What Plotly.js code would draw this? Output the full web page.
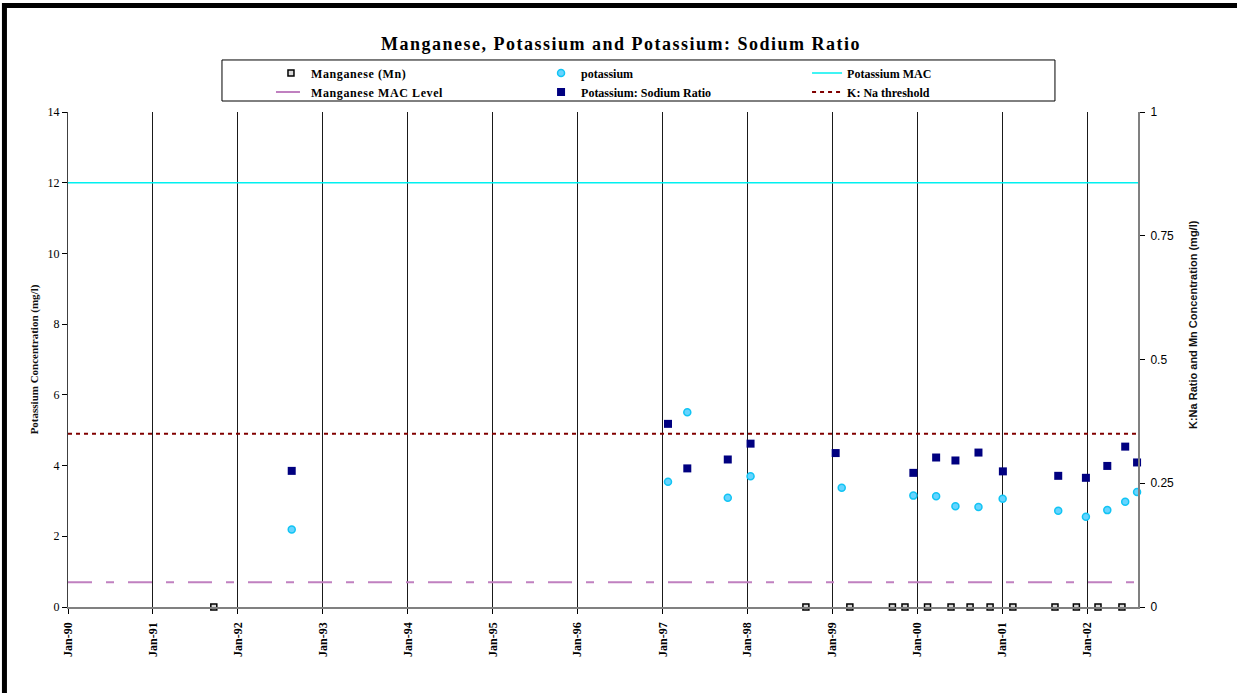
<!DOCTYPE html>
<html>
<head>
<meta charset="utf-8">
<script src="https://cdn.plot.ly/plotly-3.0.1.min.js"></script>
<style>
html,body{margin:0;padding:0;background:#fff;overflow:hidden;}
#chart{width:1237px;height:693px;}
.gtitle{letter-spacing:1.5px;}
.legendtext{letter-spacing:0.6px;}
</style>
</head>
<body>
<div id="chart"></div>
<script>
// ---- data ----
const axisStart = '1990-01-01';
const axisEnd = '2002-08-07';

const mnDates = ['1991-09-20','1998-09-09','1999-03-17','1999-09-16','1999-11-09','2000-02-14','2000-05-25',
                 '2000-08-15','2000-11-09','2001-02-15','2001-08-15','2001-11-15','2002-02-16','2002-05-30'];
const mnValues = [0,0,0,0,0,0,0,0,0,0,0,0,0,0];

const potassiumDates = ['1992-08-20','1997-01-24','1997-04-17','1997-10-08','1998-01-14','1999-02-10','1999-12-15',
                        '2000-03-22','2000-06-13','2000-09-20','2001-01-02','2001-08-29','2001-12-26','2002-03-28',
                        '2002-06-13','2002-08-03'];
const potassiumValues = [2.19,3.54,5.51,3.09,3.70,3.37,3.15,3.13,2.85,2.83,3.06,2.72,2.55,2.74,2.98,3.25];

const ratioDates = ['1992-08-20','1997-01-24','1997-04-17','1997-10-08','1998-01-14','1999-01-15','1999-12-15',
                    '2000-03-22','2000-06-13','2000-09-20','2001-01-03','2001-08-29','2001-12-26','2002-03-28',
                    '2002-06-13','2002-08-03'];
const ratioValues = [0.275,0.370,0.280,0.298,0.330,0.311,0.271,0.302,0.296,0.312,0.274,0.265,0.261,0.285,0.324,0.292];

const potassiumMAC = 12;
const manganeseMAC = 0.05;
const kNaThreshold = 0.35;

const seriesNames = ['Manganese (Mn)','potassium','Potassium MAC','Manganese MAC Level','Potassium: Sodium Ratio','K: Na threshold'];
const chartTitle = 'Manganese, Potassium and Potassium: Sodium Ratio';
const leftAxisTitle = 'Potassium Concentration (mg/l)';
const rightAxisTitle = 'K:Na Ratio and Mn Concentration (mg/l)';

// ---- traces ----
const traces = [
  {type:'scatter', mode:'markers', name:seriesNames[0], legend:'legend', x:mnDates, y:mnValues, yaxis:'y2', cliponaxis:false,
   marker:{symbol:'square', size:6, color:'#d8d8d8', line:{color:'#000', width:1.5}}},
  {type:'scatter', mode:'markers', name:seriesNames[1], legend:'legend2', x:potassiumDates, y:potassiumValues, yaxis:'y', cliponaxis:false,
   marker:{symbol:'circle', size:7, color:'#66d4ff', line:{color:'#11c4f4', width:1.5}}},
  {type:'scatter', mode:'lines', name:seriesNames[2], legend:'legend3', x:[axisStart, axisEnd], y:[potassiumMAC, potassiumMAC], yaxis:'y',
   line:{color:'#00f0f0', width:1.5}},
  {type:'scatter', mode:'lines', name:seriesNames[3], legend:'legend', x:[axisStart, axisEnd], y:[manganeseMAC, manganeseMAC], yaxis:'y2',
   line:{color:'#c080c0', width:2, dash:'24px,14px,8px,14px'}},
  {type:'scatter', mode:'markers', name:seriesNames[4], legend:'legend2', x:ratioDates, y:ratioValues, yaxis:'y2', cliponaxis:false,
   marker:{symbol:'square', size:8, color:'#000080', line:{color:'#000080', width:0}}},
  {type:'scatter', mode:'lines', name:seriesNames[5], legend:'legend3', x:[axisStart, axisEnd], y:[kNaThreshold, kNaThreshold], yaxis:'y2',
   line:{color:'#800000', width:2, dash:'4px,4px'}}
];

const legendFont = {family:'Liberation Serif', size:12, weight:'bold', color:'#000'};
function legendAt(xp) {
  return {orientation:'v', x:xp, xanchor:'left', y:1.108, yanchor:'top',
          bgcolor:'rgba(0,0,0,0)', borderwidth:0, font:legendFont};
}

const layout = {
  width:1237, height:693,
  margin:{l:68, r:99, t:112, b:86, pad:0},
  paper_bgcolor:'#fff', plot_bgcolor:'#fff',
  showlegend:true,
  title:{text:chartTitle, x:0.502, xref:'container', xanchor:'center', y:0.9365, yref:'container', yanchor:'middle',
         font:{family:'Liberation Serif', size:18, weight:'bold', color:'#000'}},
  xaxis:{type:'date', range:[axisStart, axisEnd], tick0:'1990-01-01', dtick:'M12', tickformat:'%b-%y',
         tickangle:-90, ticks:'outside', ticklen:5, tickcolor:'#000', ticklabelstandoff:4,
         tickfont:{family:'Liberation Serif', size:12, weight:'bold', color:'#000'},
         showgrid:true, gridcolor:'#1a1a1a', gridwidth:1,
         showline:true, linecolor:'#808080', linewidth:1.5, zeroline:false, fixedrange:true},
  yaxis:{range:[0,14], dtick:2, tick0:0, ticks:'outside', ticklen:5, tickcolor:'#000',
         tickfont:{family:'Liberation Serif', size:12, color:'#000'},
         showgrid:false, zeroline:false, showline:true, linecolor:'#404040', linewidth:1,
         title:{text:leftAxisTitle, standoff:6, font:{family:'Liberation Serif', size:11, weight:'bold', color:'#111'}}},
  yaxis2:{overlaying:'y', side:'right', range:[0,1], dtick:0.25, tick0:0, ticks:'outside', ticklen:5, tickcolor:'#000',
          ticklabelstandoff:3,
          tickfont:{family:'Liberation Sans', size:12, color:'#000'},
          showgrid:false, zeroline:false, showline:true, linecolor:'#808080', linewidth:2},
  legend:legendAt(0.1897),
  legend2:legendAt(0.4421),
  legend3:legendAt(0.6907),
  annotations:[
    {text:rightAxisTitle, xref:'paper', yref:'paper', x:1.0514, y:0.5717, xanchor:'center', yanchor:'middle',
     textangle:-90, showarrow:false, font:{family:'Liberation Sans', size:11, weight:'bold', color:'#111'}}
  ],
  shapes:[
    {type:'rect', xref:'paper', yref:'paper', x0:0.1439, x1:0.9224, y0:1.0222, y1:1.1051,
     line:{color:'#000', width:1}, fillcolor:'rgba(0,0,0,0)', layer:'below'},
    {type:'rect', xref:'paper', yref:'paper', x0:-0.0594, x1:1.12, y0:-0.2, y1:1.2152,
     line:{color:'#000', width:5}, fillcolor:'rgba(0,0,0,0)'}
  ]
};

Plotly.newPlot('chart', traces, layout, {displayModeBar:false, staticPlot:true});
</script>
</body>
</html>
